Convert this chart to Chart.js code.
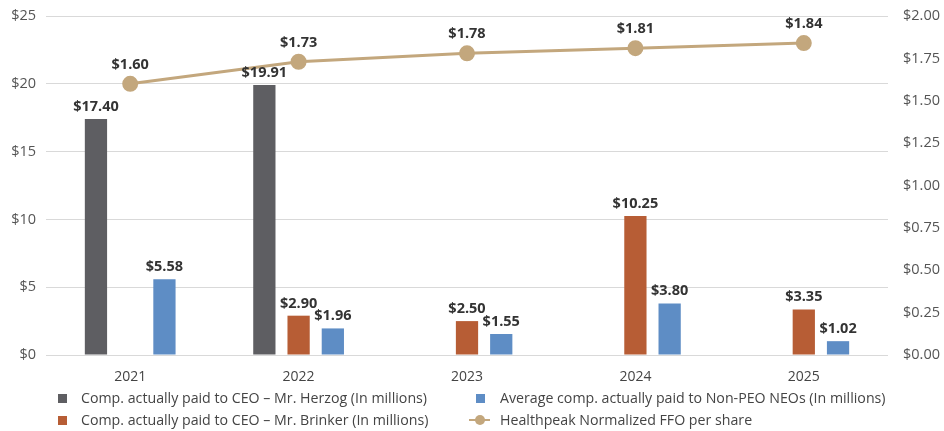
<!DOCTYPE html>
<html>
<head>
<meta charset="utf-8">
<script src="https://cdn.jsdelivr.net/npm/chart.js@4.4.1/dist/chart.umd.min.js"></script>
<style>
  body { margin: 0; background: #fff; font-family: "Open Sans", sans-serif; }
  #wrap { position: relative; width: 944px; height: 431px; }
  .leg { position: absolute; font-size: 14.2px; color: #444; white-space: nowrap; line-height: 18px; }
  .sw { position: absolute; width: 9px; height: 9px; top: 5px; }
</style>
</head>
<body>
<div id="wrap">
  <canvas id="chart" width="944" height="431"></canvas>
  <div class="leg" style="left:81px; top:389px;"><span class="sw" style="left:-23px; background:#5e5e62;"></span>Comp. actually paid to CEO – Mr. Herzog (In millions)</div>
  <div class="leg" style="left:81px; top:411px;"><span class="sw" style="left:-23px; background:#b75d35;"></span>Comp. actually paid to CEO – Mr. Brinker (In millions)</div>
  <div class="leg" style="left:500px; top:389px;"><span class="sw" style="left:-24px; background:#5e8dc5;"></span>Average comp. actually paid to Non-PEO NEOs (In millions)</div>
  <div class="leg" style="left:500px; top:411px;">
    <span style="position:absolute; left:-31px; top:8px; width:21px; height:2px; background:#c3a77d;"></span>
    <span style="position:absolute; left:-25px; top:4px; width:10px; height:10px; border-radius:50%; background:#c3a77d;"></span>
    Healthpeak Normalized FFO per share</div>
</div>
<script>
const years = ['2021', '2022', '2023', '2024', '2025'];
const herzog = [17.40, 19.91, null, null, null];
const brinker = [null, 2.90, 2.50, 10.25, 3.35];
const nonPeo = [5.58, 1.96, 1.55, 3.80, 1.02];
const ffo = [1.60, 1.73, 1.78, 1.81, 1.84];
const leftTicks = [0, 5, 10, 15, 20, 25];

const valueLabels = {
  id: 'valueLabels',
  afterDatasetsDraw(chart) {
    const ctx = chart.ctx;
    ctx.save();
    ctx.font = 'bold 14.5px "Open Sans", sans-serif';
    ctx.fillStyle = '#333';
    ctx.textAlign = 'center';
    ctx.textBaseline = 'bottom';
    chart.data.datasets.forEach((ds, i) => {
      const meta = chart.getDatasetMeta(i);
      meta.data.forEach((el, j) => {
        const v = ds.data[j];
        if (v === null || v === undefined) return;
        const off = ds.type === 'line' ? 12 : 5;
        ctx.fillText('$' + v.toFixed(2), el.x, el.y - off);
      });
    });
    ctx.restore();
  }
};

new Chart(document.getElementById('chart'), {
  type: 'bar',
  data: {
    labels: years,
    datasets: [
      { type: 'line', label: 'Healthpeak Normalized FFO per share', data: ffo, yAxisID: 'y1',
        borderColor: '#c3a77d', backgroundColor: '#c3a77d', borderWidth: 3,
        pointRadius: 6.5, pointHoverRadius: 6.5, tension: 0, order: 0 },
      { label: 'Comp. actually paid to CEO – Mr. Herzog (In millions)', data: herzog,
        backgroundColor: '#5e5e62', yAxisID: 'y', order: 1 },
      { label: 'Comp. actually paid to CEO – Mr. Brinker (In millions)', data: brinker,
        backgroundColor: '#b75d35', yAxisID: 'y', order: 1 },
      { label: 'Average comp. actually paid to Non-PEO NEOs (In millions)', data: nonPeo,
        backgroundColor: '#5e8dc5', yAxisID: 'y', order: 1 }
    ]
  },
  options: {
    responsive: false,
    animation: false,
    categoryPercentage: 0.61,
    barPercentage: 0.65,
    layout: { padding: { top: 16, bottom: 46, left: 0, right: 0 } },
    plugins: { legend: { display: false }, tooltip: { enabled: false } },
    scales: {
      x: {
        grid: { display: false },
        border: { display: false },
        ticks: { color: '#444', font: { size: 14, family: '"Open Sans", sans-serif' }, padding: 6 },
        afterFit: s => { s.height = 30; }
      },
      y: {
        position: 'left',
        min: 0, max: 25,
        afterBuildTicks: s => { s.ticks = leftTicks.map(v => ({ value: v })); },
        grid: { color: '#d9d9d9', drawTicks: false },
        border: { display: false },
        ticks: { color: '#555', font: { size: 14.5, family: '"Open Sans", sans-serif' }, padding: 10,
                 callback: v => '$' + v },
        afterFit: s => { s.width = 46; s.paddingTop = 0; s.paddingBottom = 0; }
      },
      y1: {
        position: 'right',
        min: 0, max: 2,
        grid: { display: false, drawTicks: false },
        border: { display: false },
        ticks: { stepSize: 0.25, color: '#555', font: { size: 14.5, family: '"Open Sans", sans-serif' }, padding: 15,
                 callback: v => '$' + v.toFixed(2) },
        afterFit: s => { s.width = 56; s.paddingTop = 0; s.paddingBottom = 0; }
      }
    }
  },
  plugins: [valueLabels]
});
</script>
</body>
</html>
